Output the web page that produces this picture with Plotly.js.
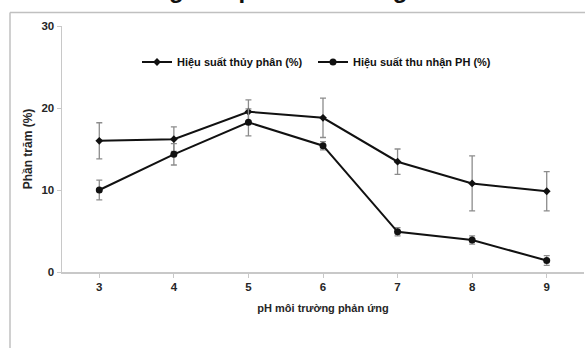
<!DOCTYPE html>
<html>
<head>
<meta charset="utf-8">
<script src="https://cdn.plot.ly/plotly-3.0.1.min.js"></script>
<style>html,body{margin:0;padding:0;background:#fff;}#chart{width:585px;height:348px;}</style>
</head>
<body>
<div id="chart"></div>
<script>
const phValues = [3, 4, 5, 6, 7, 8, 9];
const tickLabels = ['3', '4', '5', '6', '7', '8', '9'];
const hydrolysis = [16.0, 16.2, 19.55, 18.8, 13.45, 10.8, 9.85];
const hydrolysisErr = [2.2, 1.5, 1.45, 2.4, 1.55, 3.35, 2.4];
const recovery = [10.0, 14.35, 18.25, 15.4, 4.9, 3.9, 1.4];
const recoveryErr = [1.2, 1.3, 1.65, 0.5, 0.5, 0.5, 0.6];
const name1 = 'Hiệu suất thủy phân (%)';
const name2 = 'Hiệu suất thu nhận PH (%)';

const W = 585, H = 348;
const m = {l: 62, r: 1, t: 26, b: 76, autoexpand: false};
const pw = W - m.l - m.r, ph = H - m.t - m.b;
const px = x => (x - m.l) / pw;
const py = y => (H - m.b - y) / ph;

const fam = 'Arial, Liberation Sans, sans-serif';
const font = {family: fam, size: 11, color: '#262626', weight: 700};
const legFont = {family: fam, size: 11, color: '#111', weight: 700};

const traces = [
  {
    x: phValues, y: hydrolysis, name: name1, type: 'scatter', mode: 'lines+markers',
    legend: 'legend',
    line: {color: '#111', width: 2},
    marker: {symbol: 'diamond', size: 6, color: '#111'},
    error_y: {type: 'data', array: hydrolysisErr, visible: true, color: '#8c8c8c', thickness: 1.3, width: 3}
  },
  {
    x: phValues, y: recovery, name: name2, type: 'scatter', mode: 'lines+markers',
    legend: 'legend2',
    line: {color: '#111', width: 2},
    marker: {symbol: 'circle', size: 7, color: '#111'},
    error_y: {type: 'data', array: recoveryErr, visible: true, color: '#8c8c8c', thickness: 1.3, width: 3}
  }
];

const layout = {
  width: W, height: H,
  margin: m,
  paper_bgcolor: '#fff', plot_bgcolor: '#fff',
  font: font,
  showlegend: true,
  legend: {
    orientation: 'h', x: px(137), y: py(62), xanchor: 'left', yanchor: 'middle',
    font: legFont, itemwidth: 30, bgcolor: 'rgba(0,0,0,0)'
  },
  legend2: {
    orientation: 'h', x: px(313), y: py(62), xanchor: 'left', yanchor: 'middle',
    font: legFont, itemwidth: 30, bgcolor: 'rgba(0,0,0,0)'
  },
  xaxis: {
    range: [2.5, 9.5], tickvals: phValues, ticktext: tickLabels,
    showgrid: false, zeroline: false, showline: true, linecolor: '#c8c8c8', linewidth: 1.5,
    ticks: 'outside', ticklen: 4, tickcolor: '#c8c8c8', tickwidth: 1,
    tickfont: {family: fam, size: 11.5, color: '#262626', weight: 700},
    title: {text: 'pH môi trường phản ứng', font: {family: fam, size: 11, color: '#262626', weight: 700}, standoff: 12}
  },
  yaxis: {
    range: [0, 30], tickvals: [0, 10, 20, 30], ticktext: ['0', '10', '20', '30'],
    showgrid: false, zeroline: false, showline: true, linecolor: '#c8c8c8', linewidth: 1.5,
    ticks: 'outside', ticklen: 4, tickcolor: '#c8c8c8', tickwidth: 1,
    tickfont: {family: fam, size: 11.5, color: '#262626', weight: 700},
    title: {text: 'Phần trăm (%)', font: {family: fam, size: 12, color: '#262626', weight: 700}, standoff: 6}
  },
  shapes: [
    {type: 'line', xref: 'paper', yref: 'paper', x0: px(10), x1: px(590), y0: py(12.5), y1: py(12.5), line: {color: '#c0c0c0', width: 1.5}},
    {type: 'line', xref: 'paper', yref: 'paper', x0: px(10), x1: px(10), y0: py(12.5), y1: py(360), line: {color: '#c0c0c0', width: 1.5}}
  ],
  annotations: [
    {text: 'Ảnh hưởng của pH môi trường', xref: 'paper', yref: 'paper', x: px(50), y: py(-11),
     xanchor: 'left', yanchor: 'middle', showarrow: false,
     font: {family: fam, size: 24, color: '#111', weight: 700}}
  ]
};

Plotly.newPlot('chart', traces, layout, {displayModeBar: false, staticPlot: true});
</script>
</body>
</html>
